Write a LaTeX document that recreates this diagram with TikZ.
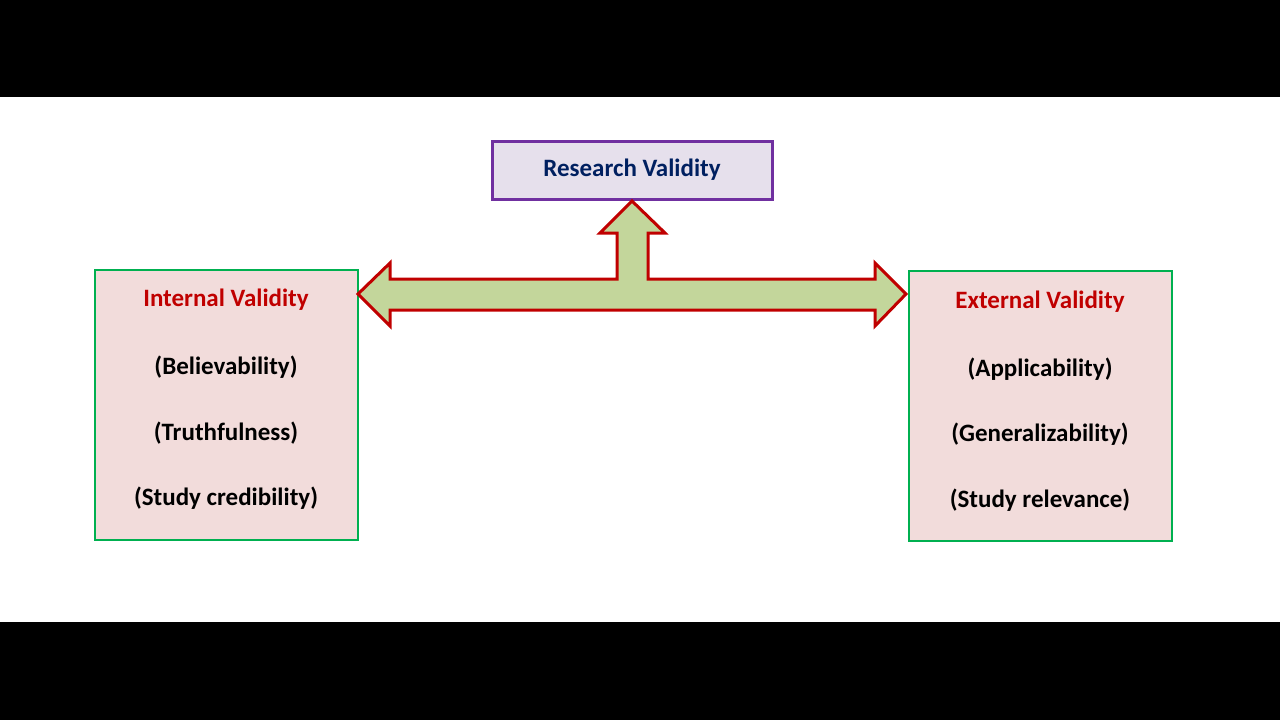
\documentclass[tikz,border=0pt]{standalone}
\usepackage{fontspec}
\setmainfont{Carlito}
\begin{document}
\begin{tikzpicture}[x=1pt,y=-1pt,
  box/.style={draw=green!60!black!80!cyan, line width=2pt, fill=pinkbg},
  txt/.style={font=\bfseries\fontsize{25}{30}\selectfont}]
\definecolor{pinkbg}{HTML}{F2DCDB}
\definecolor{lav}{HTML}{E6E0EC}
\definecolor{purp}{HTML}{7030A0}
\definecolor{navy}{HTML}{002060}
\definecolor{dred}{HTML}{C00000}
\definecolor{agreen}{HTML}{C3D69B}
\definecolor{bgreen}{HTML}{00B050}
\useasboundingbox (0,0) rectangle (1280,720);
\fill[black] (0,0) rectangle (1280,97);
\fill[black] (0,622) rectangle (1280,720);
\node[draw=purp, line width=3pt, fill=lav, minimum width=280pt, minimum height=58pt, txt, text=navy] (rv) at (632,170) {Research Validity};
\draw[draw=bgreen, line width=2pt, fill=pinkbg] (95,270) rectangle (358,540);
\draw[draw=bgreen, line width=2pt, fill=pinkbg] (909,271) rectangle (1172,541);
\node[txt, text=dred] (iv) at (226,300) {Internal Validity};
\node[txt] (i1) at (226,367) {(Believability)};
\node[txt] (i2) at (226,433) {(Truthfulness)};
\node[txt] (i3) at (226,498) {(Study credibility)};
\node[txt, text=dred] (ev) at (1040,302) {External Validity};
\node[txt] (e1) at (1040,369) {(Applicability)};
\node[txt] (e2) at (1040,434) {(Generalizability)};
\node[txt] (e3) at (1040,500) {(Study relevance)};
\draw[draw=dred, fill=agreen, line width=3pt, line join=miter]
 (358,294) -- (390,263) -- (390,279) -- (617,279) -- (617,233) -- (600,233) -- (632,201) -- (665,233) -- (648,233) -- (648,279) -- (875,279) -- (875,263) -- (906,294) -- (875,326) -- (875,310) -- (390,310) -- (390,326) -- cycle;
\end{tikzpicture}
\end{document}
